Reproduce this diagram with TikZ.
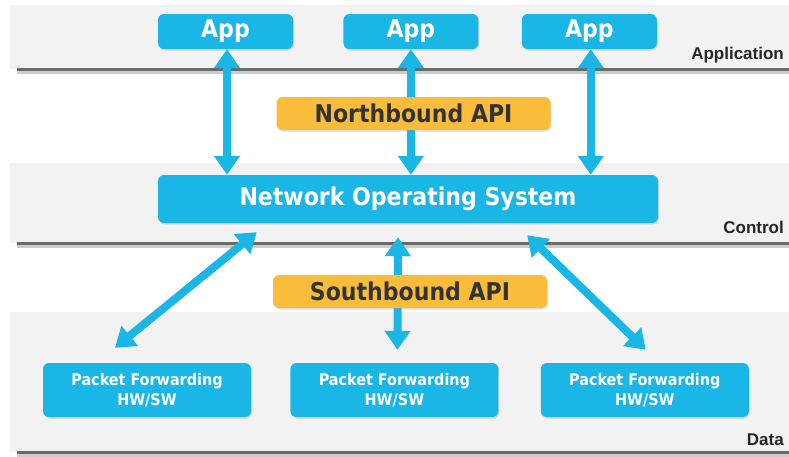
\documentclass[tikz,border=0pt]{standalone}
\usepackage{fontspec}
\usepackage{tikz}
\usetikzlibrary{arrows.meta,shadows,positioning}
\newfontfamily\boxfont{DejaVu Sans Condensed}
\newfontfamily\lblfont{Liberation Sans}
\definecolor{sdnblue}{HTML}{1AB6E6}
\definecolor{apiorange}{HTML}{F9BD3B}
\definecolor{bandgray}{HTML}{F2F2F2}
\definecolor{rulegray}{HTML}{6A6A6A}
\tikzset{
  box/.style = {rounded corners=6pt, inner sep=0pt, align=center,
    drop shadow={shadow xshift=1pt, shadow yshift=-1.5pt, opacity=0.25}},
  app_n/.style = {box, fill=sdnblue, text=white, minimum width=135pt,
    minimum height=35pt, font=\boxfont\bfseries\fontsize{24.5}{26}\selectfont},% application
  nos_n/.style = {box, fill=sdnblue, text=white, minimum width=500pt,
    minimum height=48pt, font=\boxfont\bfseries\fontsize{24.5}{26}\selectfont},% control
  api_n/.style = {box, fill=apiorange, text=black!80, minimum width=274pt,
    minimum height=33pt, font=\boxfont\bfseries\fontsize{24.5}{26}\selectfont},% interfaces
  pf_n/.style = {box, fill=sdnblue, text=white, minimum width=208pt,
    minimum height=54pt, font=\boxfont\bfseries\fontsize{16}{20}\selectfont},% data plane
  layer_lbl/.style = {anchor=base east, inner sep=0pt,
    font=\lblfont\bfseries\fontsize{17}{20}\selectfont, text=black!85},
  link/.style = {<->, line width=8pt, draw=sdnblue}
}

\begin{document}
\begin{tikzpicture}[x=1pt,y=-1pt,>={Triangle[width=25pt,length=19pt]}]
    \useasboundingbox (0,0) rectangle (789,456);
    % layers
    \foreach \top/\bot in {5/69, 163/243, 312/452}{
      \fill[bandgray] (10,\top) rectangle (789,\bot);
      \draw[line width=3pt, black!20] (17,\bot+3) -- (789,\bot+3);
      \draw[line width=3pt, rulegray] (17,\bot) -- (789,\bot);
    }
    \node [layer_lbl] (lApp) at (784,59) {Application};
    \node [layer_lbl] (lCtrl) at (784,233) {Control};
    \node [layer_lbl] (lData) at (784,445) {Data};

    \node [app_n] (app1) at (225.5,31.5) {App};
    \node [app_n, right= 50pt of app1] (app2) {App};
    \node [app_n, right= 43pt of app2] (app3) {App};
    \node [nos_n] (nos) at (408,199) {Network Operating System};
    \node [pf_n] (pf1) at (147,390) {Packet Forwarding\\HW/SW};
    \node [pf_n, right= 39pt of pf1] (pf2) {Packet Forwarding\\HW/SW};
    \node [pf_n, right= 42pt of pf2] (pf3) {Packet Forwarding\\HW/SW};

    \coordinate (nosL) at ([xshift=99pt,yshift=-9pt]nos.south west);
    \coordinate (nosM) at ([xshift=-10pt,yshift=-14pt]nos.south);
    \coordinate (nosR) at ([xshift=-131pt,yshift=-12pt]nos.south east);
    \coordinate (pfL) at ([xshift=-32pt,yshift=15pt]pf1.north);
    \coordinate (pfM) at ([xshift=3pt,yshift=13pt]pf2.north);
    \coordinate (pfR) at ([xshift=1pt,yshift=13pt]pf3.north);

    \draw [link] ([xshift=1.5pt]app1.south) -- ([xshift=1.5pt]app1.south |- nos.north);
    \draw [link] (app2.south) -- (app2.south |- nos.north);
    \draw [link] ([xshift=1.5pt]app3.south) -- ([xshift=1.5pt]app3.south |- nos.north);
    \draw [link] (nosL) -- (pfL);
    \draw [link] (nosM) -- (pfM);
    \draw [link] (nosR) -- (pfR);

    \node [api_n] (nb) at (413.5,113.5) {Northbound API};
    \node [api_n] (sb) at (410,291.5) {Southbound API};
\end{tikzpicture}
\end{document}
